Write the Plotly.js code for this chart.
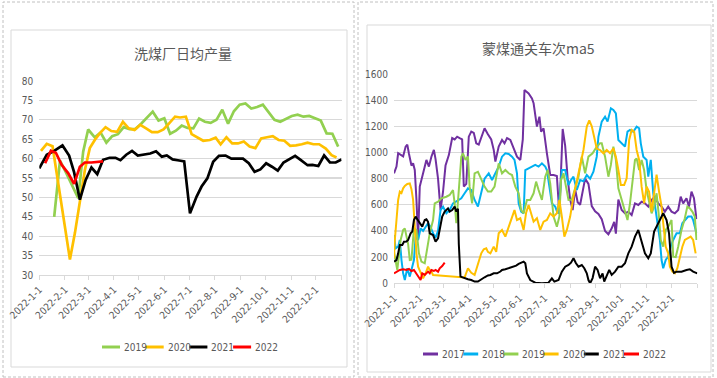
<!DOCTYPE html>
<html><head><meta charset="utf-8">
<script src="https://cdn.plot.ly/plotly-3.0.1.min.js"></script>
<style>html,body{margin:0;padding:0;background:#fff;}#chart{width:717px;height:378px;}</style>
</head><body><div id="chart"></div>
<script>
// ---- shared axis ticks (day of year) ----
const TICK_DAYS = [0,31,59,90,120,151,181,212,243,273,304,334,365];
const TICK_LABELS = ['2022-1-1','2022-2-1','2022-3-1','2022-4-1','2022-5-1','2022-6-1','2022-7-1','2022-8-1','2022-9-1','2022-10-1','2022-11-1','2022-12-1',''];

// ---- left chart: 洗煤厂日均产量 (weekly) ----
const L_TITLE = '洗煤厂日均产量';
const L_NAMES = ['2019','2020','2021','2022'];
const L_DAYS_2019 = [18,25,32,39,47,53,59,67,74,81,88,95,102,109,116,123,130,137,144,151,158,165,172,179,186,193,200,207,214,221,228,235,242,249,256,263,270,277,284,291,298,305,312,319,326,333,340,347,354,361];
const L_VALS_2019 = [45.0,59.5,56.5,53.5,49.8,61.8,67.5,65.5,66.7,64.1,65.8,66.3,68.1,67.6,67.6,69.0,70.5,72.1,69.8,70.4,66.4,67.2,68.5,67.9,67.8,70.3,69.5,69.2,70.0,72.6,69.0,72.2,73.9,74.2,72.9,73.3,73.9,71.9,70.0,69.5,70.2,71.0,71.3,70.8,71.0,70.3,69.8,66.5,66.4,63.1];
const L_DAYS_2020 = [2,9,16,37,43,49,55,61,67,73,80,87,94,101,108,115,122,129,136,143,150,156,164,170,177,184,191,198,206,213,219,226,233,240,247,254,261,268,275,282,289,296,303,310,317,324,331,338,346,353,359];
const L_VALS_2020 = [62.0,63.8,63.2,34.0,40.8,48.5,57.0,62.7,64.8,66.5,68.1,67.1,66.9,69.5,67.8,67.4,68.7,67.8,66.8,66.8,67.5,68.9,70.8,70.6,70.8,66.3,65.5,64.6,64.8,65.4,63.7,65.5,63.9,63.9,64.4,63.1,62.7,65.2,65.5,65.8,64.8,64.6,63.3,63.4,63.7,64.1,63.7,63.7,62.6,60.9,60.3];
const L_DAYS_2021 = [0,9,18,28,36,42,49,56,63,70,77,85,92,98,105,112,119,127,134,141,148,154,161,169,175,182,190,196,203,210,217,225,232,239,246,253,260,267,274,281,288,295,302,309,316,324,330,337,344,351,358,365];
const L_VALS_2021 = [57.5,61.0,62.0,63.4,60.8,56.5,49.4,54.5,57.7,56.0,59.7,60.2,60.2,59.6,61.0,62.0,60.8,61.1,61.3,61.9,60.5,60.8,59.8,59.5,59.3,45.9,50.2,52.8,54.9,59.2,60.7,60.8,60.0,60.0,60.0,58.8,56.6,57.2,58.8,57.9,56.9,59.0,59.8,60.7,59.6,58.3,58.4,58.1,60.8,59.0,59.0,59.8];
const L_DAYS_2022 = [7,14,20,27,35,42,49,55,63,70,77];
const L_VALS_2022 = [58.8,62.0,61.5,58.4,56.2,53.5,57.9,59.0,59.0,59.2,59.3];
const L_YTICKS = [30,35,40,45,50,55,60,65,70,75,80];

// ---- right chart: 蒙煤通关车次ma5 (daily ma5) ----
const R_TITLE = '蒙煤通关车次ma5';
const R_NAMES = ['2017','2018','2019','2020','2021','2022'];
const R_DAYS_2017 = [0,3,5,8,11,14,16,18,21,23,25,27,29,31,35,39,42,45,48,50,53,56,59,62,66,70,73,76,79,82,84,87,90,93,96,99,102,105,109,113,117,120,122,126,130,133,136,140,144,148,152,155,157,162,166,168,172,175,177,180,184,188,192,196,199,203,206,209,212,215,218,221,224,227,230,234,238,242,246,250,254,258,262,265,267,270,274,278,282,286,290,294,298,302,306,310,314,318,322,326,330,334,338,342,345,348,352,355,358,361,364];
const R_VALS_2017 = [841,892,994,981,970,1045,1060,990,900,917,866,640,340,739,841,943,892,968,1020,950,800,560,700,900,980,1110,1100,1121,1110,1100,740,760,1121,1160,1150,1070,1060,1121,1185,1140,1100,1020,930,1045,1096,1070,1110,1096,1032,968,943,1100,1478,1452,1414,1376,1198,1274,1159,1185,994,828,828,820,530,1180,1050,800,640,560,720,620,600,700,800,760,590,550,530,490,400,375,420,470,380,640,560,535,548,522,611,599,624,611,586,637,662,611,586,548,586,548,535,560,662,611,650,586,701,650,490];
const R_DAYS_2018 = [0,2,5,7,9,11,13,16,19,22,24,26,29,32,35,38,41,44,47,50,53,56,59,63,67,71,76,81,85,89,93,97,101,105,109,114,118,122,126,130,134,138,142,145,148,150,153,156,158,162,166,170,174,178,182,184,187,190,194,197,200,202,206,210,213,216,220,224,228,232,236,240,244,246,250,254,257,261,264,267,270,274,278,281,284,288,292,295,297,300,304,306,309,312,315,317,320,322,324,327,330,333,336,340,344,347,350,354,358,360,364];
const R_VALS_2018 = [369,267,280,331,178,76,25,115,51,127,178,357,330,420,400,430,460,430,382,350,400,560,586,535,560,611,630,650,688,726,713,637,586,688,800,841,790,841,892,968,994,989,968,943,841,611,548,535,866,879,892,905,892,917,892,866,739,611,586,535,700,866,866,752,790,815,713,790,780,828,800,853,968,1121,1236,1274,1236,1338,1325,1299,1096,1070,1045,1159,1172,1159,1198,1185,1070,968,943,815,943,688,560,484,331,178,115,178,204,280,331,382,382,459,484,510,510,484,382];
const R_DAYS_2019 = [0,2,4,8,11,13,15,17,19,21,24,27,30,33,37,40,43,47,49,53,57,63,67,71,73,75,78,81,83,86,89,91,94,97,101,105,109,113,117,121,124,126,130,134,138,142,146,150,153,156,160,164,168,171,174,178,182,185,188,192,196,199,201,204,207,210,214,218,222,226,230,234,239,244,248,250,254,258,261,264,267,270,274,278,281,284,287,290,292,295,298,301,304,307,310,313,316,319,321,324,327,330,334,336,339,342,346,350,353,356,359,362,364];
const R_VALS_2019 = [240,153,102,331,408,420,369,300,178,180,420,408,229,166,153,255,382,484,611,624,650,662,675,713,611,459,700,968,994,943,968,739,611,841,853,790,739,701,701,739,841,917,841,866,841,828,739,688,560,535,637,637,688,777,713,637,815,866,764,510,433,510,790,841,739,637,640,720,815,968,841,968,994,1045,1070,1070,968,815,905,1045,943,726,637,535,484,611,790,943,955,866,943,866,713,611,535,586,688,500,331,280,408,433,484,204,200,280,408,497,586,573,548,510,331];
const R_DAYS_2020 = [0,1,3,5,7,9,11,13,16,19,21,23,25,27,29,32,35,38,41,43,45,47,85,89,93,97,101,105,108,111,113,116,120,123,126,130,134,138,142,145,148,152,156,159,162,165,168,172,176,180,184,188,192,196,199,202,205,208,212,216,220,224,228,232,235,238,241,244,248,252,256,260,264,267,270,273,277,280,283,286,289,292,295,298,301,304,307,310,313,316,319,322,324,327,330,332,335,338,341,344,347,350,353,357,360,363];
const R_VALS_2020 = [191,331,484,637,701,690,726,744,759,764,720,637,433,229,127,76,38,76,127,100,89,64,45,115,80,64,153,229,260,267,240,229,280,240,382,408,357,433,510,560,484,497,408,540,599,535,471,497,408,471,484,535,510,535,637,510,357,408,510,662,790,892,1019,1198,1245,1200,1100,1030,1019,994,1019,994,1032,968,866,752,752,802,1096,1172,1159,1019,943,739,611,739,700,548,688,830,700,586,459,280,229,127,89,76,115,204,280,331,344,357,331,229];
const R_DAYS_2021 = [0,3,5,7,10,12,15,17,20,22,24,26,28,31,34,37,39,41,43,47,50,53,55,58,61,65,67,70,73,75,77,78,80,85,89,93,97,101,105,109,113,116,120,124,128,130,134,138,141,144,147,150,153,156,158,160,164,170,178,186,190,193,198,202,206,210,213,216,219,222,226,229,232,234,236,239,242,245,248,251,253,256,259,262,266,270,274,278,282,286,290,294,298,302,306,309,313,316,320,324,328,331,334,337,340,346,352,356,360,365];
const R_VALS_2021 = [166,178,229,293,293,318,320,331,382,395,484,510,489,459,433,484,489,470,382,369,318,344,408,510,548,573,548,560,586,548,570,300,51,38,31,25,13,13,31,46,60,64,76,76,90,102,107,115,120,127,135,148,155,166,153,76,25,5,0,5,38,13,25,89,127,140,158,191,153,127,140,115,76,25,0,40,127,102,38,76,13,60,102,64,89,127,127,153,229,280,357,408,318,229,191,229,395,433,484,535,484,382,127,80,89,89,102,107,89,76];
const R_DAYS_2022 = [0,3,7,11,15,18,21,24,27,30,32,34,37,41,43,45,48,50,53,55,58,61];
const R_VALS_2022 = [76,89,102,107,102,110,94,102,76,51,25,76,64,89,76,102,94,102,89,115,132,158];
const R_YTICKS = [0,200,400,600,800,1000,1200,1400,1600];

// ---- styles ----
const COLORS = {'2017':'#7030A0','2018':'#00B0F0','2019':'#92D050','2020':'#FFC000','2021':'#000000','2022':'#FF0000'};
const TXT = '#595959';
const GRID = '#d9d9d9';
const NUMFONT = 'Liberation Sans Narrow, DejaVu Sans Condensed, Liberation Sans, sans-serif';
const CJKFONT = 'Noto Sans CJK SC, sans-serif';
const W=717,H=378;
const px=v=>v/W, py=v=>1-v/H;

function tr(x, y, name, xa, ya, w) {
  return {type:'scatter', mode:'lines', x:x, y:y, name:name, xaxis:xa, yaxis:ya,
          line:{color:COLORS[name], width:w}, hoverinfo:'skip', showlegend:false};
}
const L_SERIES = [[L_DAYS_2019,L_VALS_2019],[L_DAYS_2020,L_VALS_2020],[L_DAYS_2021,L_VALS_2021],[L_DAYS_2022,L_VALS_2022]];
const R_SERIES = [[R_DAYS_2017,R_VALS_2017],[R_DAYS_2018,R_VALS_2018],[R_DAYS_2019,R_VALS_2019],[R_DAYS_2020,R_VALS_2020],[R_DAYS_2021,R_VALS_2021],[R_DAYS_2022,R_VALS_2022]];
const data = [];
L_SERIES.forEach((s,i)=>data.push(tr(s[0],s[1],L_NAMES[i],'x','y',2.7)));
R_SERIES.forEach((s,i)=>data.push(tr(s[0],s[1],R_NAMES[i],'x2','y2',2)));

function xax(domain){
  return {domain:domain, range:[0,365], tickmode:'array', tickvals:TICK_DAYS, ticktext:TICK_LABELS,
    tickangle:-45, tickfont:{family:NUMFONT, size:10, color:TXT}, showgrid:false, zeroline:false,
    showline:true, linecolor:GRID, linewidth:1, ticks:'outside', ticklen:4, tickcolor:GRID, fixedrange:true};
}
function yax(domain, range, ticks, anchor){
  return {domain:domain, range:range, tickmode:'array', tickvals:ticks, showgrid:true, gridcolor:GRID, gridwidth:1.3,
    zeroline:false, showline:false, ticks:'', tickfont:{family:NUMFONT, size:10, color:TXT}, ticklabelstandoff:5,
    anchor:anchor, fixedrange:true};
}

// custom legend: short line sample + label, built from the series names
const shapes = [
  {type:'rect', xref:'paper', yref:'paper', x0:px(3), x1:px(354), y0:py(377), y1:py(2), line:{color:'#c0c0c0', width:1, dash:'3px,2px'}, layer:'below'},
  {type:'rect', xref:'paper', yref:'paper', x0:px(358), x1:px(713), y0:py(377), y1:py(2), line:{color:'#c0c0c0', width:1, dash:'3px,2px'}, layer:'below'},
  {type:'rect', xref:'paper', yref:'paper', x0:px(11), x1:px(347), y0:py(367), y1:py(30), line:{color:GRID, width:1}, layer:'below'},
  {type:'rect', xref:'paper', yref:'paper', x0:px(367), x1:px(711), y0:py(372), y1:py(25), line:{color:GRID, width:1}, layer:'below'}
];
const annotations = [
  {text:L_TITLE, xref:'paper', yref:'paper', x:px(183.5), y:py(53), showarrow:false, xanchor:'center', yanchor:'middle',
   font:{family:CJKFONT, size:14, color:TXT}},
  {text:R_TITLE, xref:'paper', yref:'paper', x:px(538), y:py(48), showarrow:false, xanchor:'center', yanchor:'middle',
   font:{family:CJKFONT, size:14, color:TXT}}
];
function legend(names, x0, pitch, lineLen, yPix, lw) {
  names.forEach((n,i)=>{
    const xs = x0 + i*pitch;
    shapes.push({type:'line', xref:'paper', yref:'paper', x0:px(xs), x1:px(xs+lineLen), y0:py(yPix), y1:py(yPix),
                 line:{color:COLORS[n], width:lw}});
    annotations.push({text:n, xref:'paper', yref:'paper', x:px(xs+lineLen+2), y:py(yPix), showarrow:false,
                 xanchor:'left', yanchor:'middle', font:{family:NUMFONT, size:10, color:TXT}});
  });
}
legend(L_NAMES, 102, 43.7, 18, 347, 3);
legend(R_NAMES, 423, 40.2, 15, 354, 3);

const layout = {
  width:W, height:H, margin:{l:0,r:0,t:0,b:0}, paper_bgcolor:'#fff', plot_bgcolor:'#fff',
  showlegend:false,
  xaxis: xax([px(39.3), px(341.5)]),
  yaxis: yax([py(275), py(81)], [30,80], L_YTICKS, 'x'),
  xaxis2: Object.assign(xax([px(394), px(697.3)]), {anchor:'y2'}),
  yaxis2: yax([py(283.3), py(74)], [0,1600], R_YTICKS, 'x2'),
  annotations: annotations,
  shapes: shapes
};
Plotly.newPlot('chart', data, layout, {staticPlot:true, displayModeBar:false});
</script>
</body></html>
